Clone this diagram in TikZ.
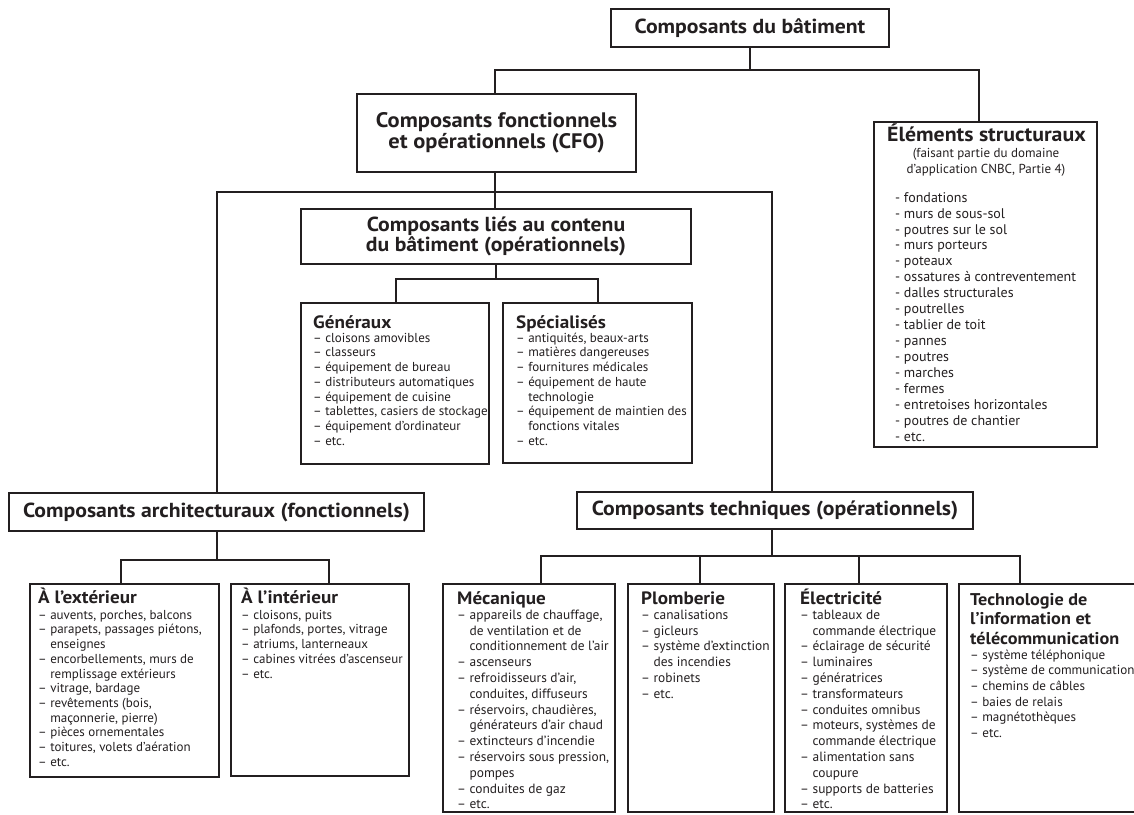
\documentclass[tikz,border=0pt]{standalone}
\usepackage{fontspec}
\setmainfont{PT Sans}
\newfontfamily\hdfont{PT Sans}[FakeStretch=1.07]
\definecolor{ink}{HTML}{231F20}
\newcommand\lidash{–\ }
\newcommand\licont{\phantom{–\ }}
\newcommand\fst{\rule{0pt}{11pt}}
\begin{document}
\begin{tikzpicture}[x=1pt,y=-1pt,
  box/.style={draw=ink, line width=1.5pt, inner sep=0pt, outer sep=0pt, anchor=north west},
  conn/.style={draw=ink, line width=1.1pt},
  head/.style={text=ink, font=\hdfont\fontsize{20.3}{20.5}\selectfont\bfseries, align=center, inner sep=0pt},
  ttl/.style={text=ink, font=\hdfont\fontsize{17.9}{19.5}\selectfont\bfseries, anchor=base west, inner sep=0pt},
  lst/.style={text=ink, font=\fontsize{13}{14.7}\selectfont, anchor=north west, inner sep=0pt, align=left},
  lstb/.style={lst, font=\fontsize{13.4}{15.8}\selectfont},
  lste/.style={lst, font=\fontsize{14}{15.93}\selectfont},
]
\useasboundingbox (0,0) rectangle (1134,814);
\fill[white] (0,0) rectangle (1134,814);
\clip (0,0) rectangle (1134,814);

% boxes
\node[box, minimum width=278, minimum height=38] (top) at (611,9) {};
\node[box, minimum width=279, minimum height=78] (cfo) at (357,94) {};
\node[box, minimum width=223, minimum height=325] (elem) at (874,122) {};
\node[box, minimum width=390, minimum height=55] (lies) at (301,209) {};
\node[box, minimum width=188, minimum height=161] (gen) at (301,303) {};
\node[box, minimum width=189, minimum height=160] (spec) at (503,303) {};
\node[box, minimum width=415, minimum height=38] (arch) at (9,493) {};
\node[box, minimum width=396, minimum height=37] (tech) at (577,492) {};
\node[box, minimum width=189, minimum height=193] (ext) at (30,584) {};
\node[box, minimum width=178, minimum height=192] (int) at (231,584) {};
\node[box, minimum width=172, minimum height=228] (mec) at (443,584) {};
\node[box, minimum width=146, minimum height=228] (plomb) at (628,584) {};
\node[box, minimum width=162, minimum height=228] (elec) at (785,584) {};
\node[box, minimum width=186, minimum height=228] (techno) at (959,584) {};

% connector points
\coordinate (h1l) at (495,70);  \coordinate (h1r) at (979,70);
\coordinate (h2c) at (495,192); \coordinate (h2l) at (217,192); \coordinate (h2r) at (772,192);
\coordinate (h3c) at (496,279); \coordinate (h3l) at (396,279); \coordinate (h3r) at (598,279);
\coordinate (h4c) at (217,560); \coordinate (h4l) at (121,560); \coordinate (h4r) at (329,560);
\coordinate (h5c) at (772,556); \coordinate (h5a) at (541,556); \coordinate (h5b) at (700,556);
\coordinate (h5d) at (859,556); \coordinate (h5e) at (1020,556);

% connectors
\draw[conn] (top.south) -- (top.south |- h1l);
\draw[conn] (cfo.north -| h1l) -- (h1l) -- (h1r) -- (elem.north -| h1r);
\draw[conn] (cfo.south -| h2c) -- (h2c) -- (lies.north -| h2c);
\draw[conn] (arch.north -| h2l) -- (h2l) -- (h2r) -- (tech.north -| h2r);
\draw[conn] (lies.south -| h3c) -- (h3c);
\draw[conn] (gen.north -| h3l) -- (h3l) -- (h3r) -- (spec.north -| h3r);
\draw[conn] (arch.south -| h4c) -- (h4c);
\draw[conn] (ext.north -| h4l) -- (h4l) -- (h4r) -- (int.north -| h4r);
\draw[conn] (tech.south -| h5c) -- (h5c);
\draw[conn] (mec.north -| h5a) -- (h5a) -- (h5e) -- (techno.north -| h5e);
\draw[conn] (h5b) -- (plomb.north -| h5b);
\draw[conn] (h5d) -- (elec.north -| h5d);

% header texts
\node[head] (topt) at (top.center) {Composants du bâtiment};
\node[head, font=\hdfont\fontsize{21}{21}\selectfont\bfseries] (cfot) at (cfo.center) {Composants fonctionnels\\et opérationnels (CFO)};
\node[head] (liest) at (lies.center) {Composants liés au contenu\\du bâtiment (opérationnels)};
\node[head] (archt) at (arch.center) {Composants architecturaux (fonctionnels)};
\node[head] (techt) at (tech.center) {Composants techniques (opérationnels)};

% Elements structuraux
\node[ttl, font=\hdfont\fontsize{20.4}{22}\selectfont\bfseries] (elemt) at (887,141) {Éléments structuraux};
\node[lst, anchor=north, align=center, font=\fontsize{13}{16}\selectfont] (elems) at (986,146) {\fst(faisant partie du domaine\\d’application CNBC, Partie 4)};
\node[lste] (eleml) at (895,191) {\fst- fondations\\- murs de sous-sol\\- poutres sur le sol\\- murs porteurs\\- poteaux\\- ossatures à contreventement\\- dalles structurales\\- poutrelles\\- tablier de toit\\- pannes\\- poutres\\- marches\\- fermes\\- entretoises horizontales\\- poutres de chantier\\- etc.};

% Generaux / Specialises
\node[ttl] (gent) at (313,328) {Généraux};
\node[lst] (genl) at (313,331) {\fst\lidash cloisons amovibles\\\lidash classeurs\\\lidash équipement de bureau\\\lidash distributeurs automatiques\\\lidash équipement de cuisine\\\lidash tablettes, casiers de stockage\\\lidash équipement d’ordinateur\\\lidash etc.};
\node[ttl] (spect) at (516,328) {Spécialisés};
\node[lst] (specl) at (516,331) {\fst\lidash antiquités, beaux-arts\\\lidash matières dangereuses\\\lidash fournitures médicales\\\lidash équipement de haute\\\licont technologie\\\lidash équipement de maintien des\\\licont fonctions vitales\\\lidash etc.};

% Exterieur / Interieur
\node[ttl] (extt) at (38,603) {À l’extérieur};
\node[lst] (extl) at (38,608) {\fst\lidash auvents, porches, balcons\\\lidash parapets, passages piétons,\\\licont enseignes\\\lidash encorbellements, murs de\\\licont remplissage extérieurs\\\lidash vitrage, bardage\\\lidash revêtements (bois,\\\licont maçonnerie, pierre)\\\lidash pièces ornementales\\\lidash toitures, volets d’aération\\\lidash etc.};
\node[ttl] (intt) at (241,603) {À l’intérieur};
\node[lst] (intl) at (241,608) {\fst\lidash cloisons, puits\\\lidash plafonds, portes, vitrage\\\lidash atriums, lanterneaux\\\lidash cabines vitrées d’ascenseur\\\lidash etc.};

% Technical
\node[ttl] (mect) at (457,604) {Mécanique};
\node[lstb] (mecl) at (457,608) {\fst\lidash appareils de chauffage,\\\licont de ventilation et de\\\licont conditionnement de l’air\\\lidash ascenseurs\\\lidash refroidisseurs d’air,\\\licont conduites, diffuseurs\\\lidash réservoirs, chaudières,\\\licont générateurs d’air chaud\\\lidash extincteurs d’incendie\\\lidash réservoirs sous pression,\\\licont pompes\\\lidash conduites de gaz\\\lidash etc.};
\node[ttl] (plombt) at (641,604) {Plomberie};
\node[lstb] (plombl) at (641,608) {\fst\lidash canalisations\\\lidash gicleurs\\\lidash système d’extinction\\\licont des incendies\\\lidash robinets\\\lidash etc.};
\node[ttl] (elect) at (800,604) {Électricité};
\node[lstb] (elecl) at (800,608) {\fst\lidash tableaux de\\\licont commande électrique\\\lidash éclairage de sécurité\\\lidash luminaires\\\lidash génératrices\\\lidash transformateurs\\\lidash conduites omnibus\\\lidash moteurs, systèmes de\\\licont commande électrique\\\lidash alimentation sans\\\licont coupure\\\lidash supports de batteries\\\lidash etc.};
\node[ttl, anchor=north west, align=left, font=\hdfont\fontsize{17}{19.5}\selectfont\bfseries] (technot) at (970,592) {\rule{0pt}{13pt}Technologie de\\l’information et\\télécommunication};
\node[lstb, font=\fontsize{13.1}{15.6}\selectfont] (technol) at (970,648) {\fst\lidash système téléphonique\\\lidash système de communication\\\lidash chemins de câbles\\\lidash baies de relais\\\lidash magnétothèques\\\lidash etc.};
\end{tikzpicture}
\end{document}
